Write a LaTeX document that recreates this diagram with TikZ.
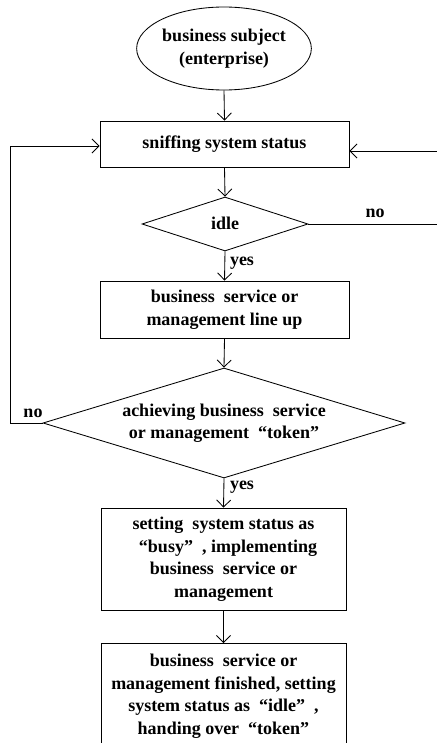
\documentclass[tikz,border=0pt]{standalone}
\usepackage{fontspec}
\setmainfont{Liberation Serif}
\usetikzlibrary{shapes.geometric,arrows.meta}
\newcommand\cq[1]{\hspace{0.5em}“#1”\hspace{0.5em}}
\begin{document}
\begin{tikzpicture}[x=1pt,y=-1pt,
  every node/.style={font=\bfseries\fontsize{18}{22.5}\selectfont, align=center},
  line/.style={line width=0.85pt},
  arr/.style={line width=0.85pt,-{Straight Barb[length=7pt,width=14pt,line width=0.85pt]}},
  boxnode/.style={draw,line width=0.85pt,rectangle,inner sep=0pt},
  dia/.style={draw,line width=0.85pt,diamond,inner sep=0pt},
  txt/.style={inner sep=1pt}]
\useasboundingbox (0,0) rectangle (436,743);
\node[draw,line width=0.85pt,ellipse,minimum width=162pt,minimum height=83pt,inner sep=0pt] (ell) at (224,48.5) {business subject\\(enterprise)};
\node[boxnode,minimum width=249pt,minimum height=46pt] (b1) at (224.5,144) {sniffing system status};
\node[dia,minimum width=166pt,minimum height=54pt] (d1) at (225,224) {};
\node[txt] (d1t) at (225,223) {idle};
\node[boxnode,minimum width=249pt,minimum height=57pt] (b2) at (224.5,309.5) {business\ \ service or\\management line up};
\node[dia,minimum width=362pt,minimum height=110pt] (d2) at (224,423) {};
\node[txt] (d2t) at (224,423) {achieving business\ \ service\\or management\cq{token}};
\node[boxnode,minimum width=245pt,minimum height=102pt] (b3) at (223.5,559) {setting\ \ system status as\\\cq{busy}, implementing\\business\ \ service or\\management};
\node[boxnode,minimum width=245pt,minimum height=130pt,anchor=north] (b4) at (223.5,643) {};
\node[txt] (b4t) at (223.5,696) {business\ \ service or\\management finished, setting\\system status as\cq{idle},\\handing over\cq{token}};
\coordinate (rb) at (438,224);
\coordinate (rt) at (438,151);
\coordinate (lb) at (10,423);
\coordinate (lt) at (10,146);
\draw[arr] (ell.south) -- (b1.north);
\draw[arr] (b1.south) -- (d1.north);
\draw[arr] (d1.south) -- (b2.north);
\draw[arr] (b2.south) -- (d2.north);
\draw[arr] (d2.south) -- (b3.north);
\draw[arr] (b3.south) -- (b4.north);
\draw[arr] (d1.east) -- (rb) -- (rt) -- (b1.east |- rt);
\draw[arr] (d2.west) -- (lb) -- (lt) -- (b1.west |- lt);
\node[txt] (no1) at (375,213) {no};
\node[txt] (no2) at (33,413) {no};
\node[txt] (yes1) at (242,263) {yes};
\node[txt] (yes2) at (242,487) {yes};
\end{tikzpicture}
\end{document}
